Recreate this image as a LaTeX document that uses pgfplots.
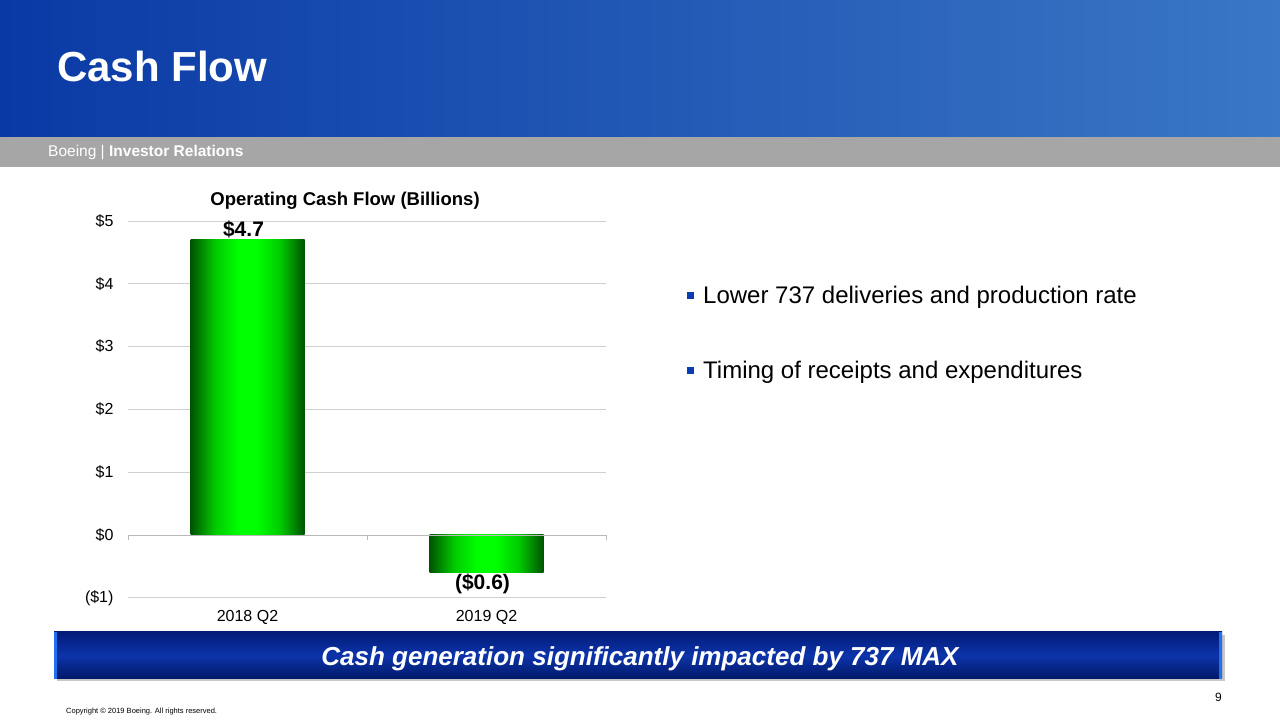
\documentclass[border=0pt]{standalone}
\usepackage{pgfplots}
\pgfplotsset{compat=1.18}
\usepackage{fontspec}
\setmainfont{Liberation Sans}

\definecolor{hdrL}{HTML}{0A39A5}
\definecolor{hdrR}{HTML}{3A77C5}
\definecolor{band}{HTML}{A6A6A6}
\definecolor{gridgray}{HTML}{D0D0D0}
\definecolor{zerogray}{HTML}{B8B8B8}
\definecolor{barDark}{HTML}{005400}
\definecolor{barMidG}{HTML}{00CC00}
\definecolor{barLight}{HTML}{00FF00}
\definecolor{bulletblue}{HTML}{0A3CB4}
\definecolor{banTop}{HTML}{021C78}
\definecolor{banMid}{HTML}{0C34AA}
\definecolor{banBot}{HTML}{001868}
\definecolor{banEdge}{HTML}{2070F0}

% the path is fitted to the 25bp--75bp band of the shading
\pgfdeclarehorizontalshading{barshade}{100bp}{%
  color(0bp)=(barDark); color(25bp)=(barDark); color(36bp)=(barMidG);
  color(46bp)=(barLight); color(54bp)=(barLight); color(64bp)=(barMidG);
  color(75bp)=(barDark); color(100bp)=(barDark)}

\pgfplotsset{greenbar/.style={ybar, bar width=114pt, draw=none,
  shade, shading=barshade,
  nodes near coords, point meta=explicit symbolic,
  nodes near coords style={font=\bfseries\fontsize{21}{24}\selectfont,
    text=black, inner sep=1.5pt, xshift=-4pt}}}

\begin{document}
\begin{tikzpicture}[x=1pt,y=1pt]
\useasboundingbox (0,0) rectangle (1280,720);
\fill[white] (0,0) rectangle (1280,720);

% header
\shade[left color=hdrL, right color=hdrR] (0,583) rectangle (1280,720);
\fill[band] (0,553) rectangle (1280,583);
\node[anchor=base west, inner sep=0, text=white, font=\bfseries\fontsize{42}{50}\selectfont] at (57,638) {Cash Flow};
\node[anchor=base west, inner sep=0, text=white, font=\fontsize{15.5}{18}\selectfont] at (48,563) {Boeing | \textbf{Investor Relations}};

% chart
\begin{axis}[
  at={(128pt,122.2pt)}, anchor=south west,
  scale only axis, width=478pt, height=376.8pt,
  xmin=-0.5, xmax=1.5, ymin=-1, ymax=5,
  xtick={0,1}, xticklabels={2018 Q2,2019 Q2},
  ytick={-1,0,1,2,3,4,5},
  yticklabels={(\$1),\$0,\$1,\$2,\$3,\$4,\$5},
  axis line style={draw=none},
  major tick length=0pt,
  ymajorgrids, grid style={draw=gridgray, line width=0.9pt},
  tick label style={font=\fontsize{16}{18}\selectfont, text=black},
  yticklabel style={xshift=-11pt},
  xticklabel style={yshift=-9pt},
  title={Operating Cash Flow (Billions)},
  title style={at={(0.454,1)}, anchor=center, yshift=14pt,
    font=\bfseries\fontsize{18.5}{22}\selectfont},
  clip=false,
]
\addplot[greenbar] coordinates {(0,4.7) [\$4.7]};
\addplot[greenbar, nodes near coords style={anchor=north}] coordinates {(1,-0.6) [(\$0.6)]};
\draw[zerogray, line width=0.9pt] (axis cs:-0.5,0) -- (axis cs:1.5,0);
\draw[zerogray, line width=0.9pt] (axis cs:-0.5,0) -- ([yshift=-5pt]axis cs:-0.5,0);
\draw[zerogray, line width=0.9pt] (axis cs:0.5,0) -- ([yshift=-5pt]axis cs:0.5,0);
\draw[zerogray, line width=0.9pt] (axis cs:1.5,0) -- ([yshift=-5pt]axis cs:1.5,0);
\end{axis}

% bullets
\fill[bulletblue] (687,421) rectangle (694,428);
\node[anchor=base west, inner sep=0, font=\fontsize{24}{28}\selectfont] at (703,416) {Lower 737 deliveries and production rate};
\fill[bulletblue] (687,346) rectangle (694,353);
\node[anchor=base west, inner sep=0, font=\fontsize{24}{28}\selectfont] at (703,341) {Timing of receipts and expenditures};

% banner
\fill[black!22] (57,39) rectangle (1225,85);
\shade[top color=banTop, bottom color=banBot, middle color=banMid] (54,41) rectangle (1222,88);
\fill[banEdge] (54,41) rectangle (57,88);
\fill[banEdge] (1219,41) rectangle (1222,88);
\node[anchor=base, inner sep=0, text=white, font=\bfseries\itshape\fontsize{26}{30}\selectfont] at (640,54) {Cash generation significantly impacted by 737 MAX};

% footer
\node[anchor=base east, inner sep=0, font=\fontsize{12}{14}\selectfont] at (1222,18) {9};
\node[anchor=base west, inner sep=0, font=\fontsize{7.5}{9}\selectfont] at (66,6) {Copyright © 2019 Boeing. All rights reserved.};
\end{tikzpicture}
\end{document}
